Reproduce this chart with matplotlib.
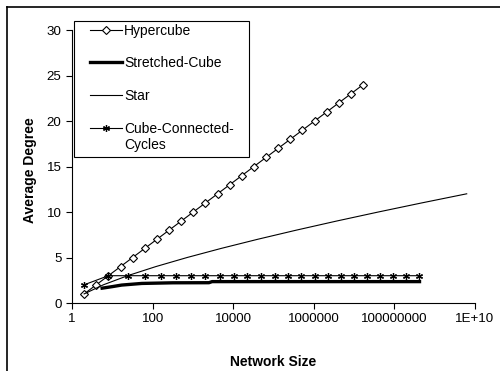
import matplotlib
matplotlib.use("Agg")
from matplotlib import pyplot as plt
from matplotlib.lines import Line2D
from matplotlib.patches import Rectangle

plt.rcParams['font.family'] = ['Liberation Sans', 'DejaVu Sans']

# hypercube: 2^n nodes, degree n
hyper_n = list(range(1, 25))
hyper_size = [2 ** n for n in hyper_n]
hyper_deg = hyper_n

# stretched-cube
stretch_size = [5.6, 10, 17, 54, 316, 2500, 3000, 4.2e8]
stretch_deg = [1.63, 1.8, 1.97, 2.15, 2.22, 2.23, 2.35, 2.35]

# star graph: n! nodes, degree n-1
star_n = list(range(2, 14))
star_size = [2, 6, 24, 120, 720, 5040, 40320, 362880, 3628800,
             39916800, 479001600, 6227020800]
star_deg = [n - 1 for n in star_n]

# cube-connected cycles: n*2^n nodes
ccc_n = list(range(1, 25))
ccc_size = [n * 2 ** n for n in ccc_n]
ccc_deg = [2] + [3] * 23

xticks = [1, 100, 1e4, 1e6, 1e8, 1e10]
xtick_labels = ["1", "100", "10000", "1000000", "100000000", "1E+10"]
yticks = [0, 5, 10, 15, 20, 25, 30]
names = ['Hypercube', 'Stretched-Cube', 'Star', 'Cube-Connected-\nCycles']

W, H = 500, 371
fig = plt.figure(figsize=(5, 3.71), dpi=100)
ax = fig.add_axes([72 / W, 1 - 303 / H, 403 / W, 273 / H])

l1, = ax.plot(hyper_size, hyper_deg, color='black', lw=0.8, marker='D',
              markersize=4, markerfacecolor='white', markeredgewidth=0.8)
l2, = ax.plot(stretch_size, stretch_deg, color='black', lw=2.4)
l3, = ax.plot(star_size, star_deg, color='black', lw=0.8)
l4, = ax.plot(ccc_size, ccc_deg, color='black', lw=0.8, marker=(6, 2, 0),
              markersize=5, markeredgewidth=0.9)

ax.set_xscale('log')
ax.set_xlim(1, 1e10)
ax.set_ylim(0, 30)
ax.set_xticks(xticks)
ax.set_xticklabels(xtick_labels)
ax.minorticks_off()
ax.set_yticks(yticks)
ax.tick_params(direction='out', length=4, width=0.8, labelsize=9.6,
               colors='black')
for s in ['top', 'right']:
    ax.spines[s].set_visible(False)
for s in ['left', 'bottom']:
    ax.spines[s].set_linewidth(0.8)

ax.set_xlabel('Network Size', fontsize=10, fontweight='bold')
ax.xaxis.set_label_coords(0.5, -(355 - 303) / 273)
ax.set_ylabel('Average Degree', fontsize=10, fontweight='bold')
ax.yaxis.set_label_coords((37 - 72) / 403, (303 - 170) / 273)

# legend box, drawn by hand to match the spacing of the original
fig.add_artist(Rectangle((74 / W, 1 - 157 / H), 175 / W, 135.5 / H,
                         transform=fig.transFigure, fill=False,
                         edgecolor='black', lw=0.8))
rows_y = [30, 62, 95, 128]
for line, name, y in zip([l1, l2, l3, l4], names, rows_y):
    h = Line2D([90 / W, 106 / W, 122 / W], [1 - y / H] * 3)
    h.update_from(line)
    h.set_markevery([1])
    h.set_transform(fig.transFigure)
    h.set_clip_on(False)
    fig.add_artist(h)
    fig.text(124 / W, 1 - (y - 6) / H, name, fontsize=10, va='top',
             ha='left', linespacing=1.15)

# chart border (only left and top visible in the crop)
fig.add_artist(Line2D([7 / W, 7 / W], [-0.1, 1 - 7 / H],
                      transform=fig.transFigure, color='black', lw=1.2))
fig.add_artist(Line2D([7 / W, 1.1], [1 - 7 / H, 1 - 7 / H],
                      transform=fig.transFigure, color='black', lw=1.2))

fig.savefig('out.png', dpi=100)
